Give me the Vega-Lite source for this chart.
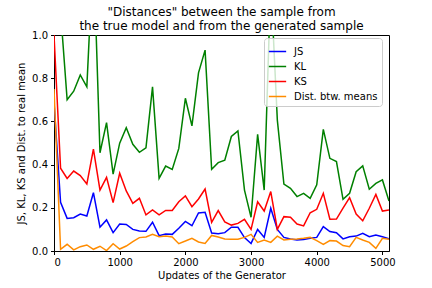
{
  "$schema": "https://vega.github.io/schema/vega-lite/v6.json",
  "width": 335,
  "height": 216,
  "autosize": {"type": "none"},
  "padding": {"left": 54, "top": 35, "right": 43, "bottom": 37},
  "background": "white",
  "title": {
    "text": ["\"Distances\" between the sample from", "the true model and from the generated sample"],
    "fontSize": 12,
    "font": "DejaVu Sans",
    "fontWeight": "normal",
    "color": "black",
    "anchor": "middle",
    "offset": -3,
    "lineHeight": 14.5
  },
  "data": {
    "values": [
      {"u": 0, "JS": 0.69, "KL": 2.0, "KS": 1.0, "M": 0.75},
      {"u": 100, "JS": 0.225, "KL": 1.11, "KS": 0.383, "M": 0.008},
      {"u": 200, "JS": 0.151, "KL": 0.70, "KS": 0.336, "M": 0.031},
      {"u": 300, "JS": 0.154, "KL": 0.74, "KS": 0.370, "M": 0.005},
      {"u": 400, "JS": 0.171, "KL": 0.815, "KS": 0.349, "M": 0.020},
      {"u": 500, "JS": 0.162, "KL": 0.76, "KS": 0.310, "M": 0.028},
      {"u": 600, "JS": 0.270, "KL": 1.4, "KS": 0.472, "M": 0.008},
      {"u": 700, "JS": 0.110, "KL": 0.455, "KS": 0.282, "M": 0.022},
      {"u": 800, "JS": 0.144, "KL": 0.594, "KS": 0.341, "M": 0.002},
      {"u": 900, "JS": 0.085, "KL": 0.356, "KS": 0.224, "M": 0.034},
      {"u": 1000, "JS": 0.125, "KL": 0.499, "KS": 0.360, "M": 0.009},
      {"u": 1100, "JS": 0.123, "KL": 0.571, "KS": 0.278, "M": 0.023},
      {"u": 1200, "JS": 0.100, "KL": 0.494, "KS": 0.221, "M": 0.043},
      {"u": 1300, "JS": 0.093, "KL": 0.457, "KS": 0.244, "M": 0.062},
      {"u": 1400, "JS": 0.091, "KL": 0.478, "KS": 0.167, "M": 0.065},
      {"u": 1500, "JS": 0.133, "KL": 0.76, "KS": 0.190, "M": 0.077},
      {"u": 1600, "JS": 0.071, "KL": 0.336, "KS": 0.167, "M": 0.066},
      {"u": 1700, "JS": 0.079, "KL": 0.393, "KS": 0.188, "M": 0.069},
      {"u": 1800, "JS": 0.077, "KL": 0.378, "KS": 0.188, "M": 0.065},
      {"u": 1900, "JS": 0.105, "KL": 0.475, "KS": 0.228, "M": 0.034},
      {"u": 2000, "JS": 0.137, "KL": 0.707, "KS": 0.255, "M": 0.046},
      {"u": 2100, "JS": 0.117, "KL": 0.579, "KS": 0.205, "M": 0.059},
      {"u": 2200, "JS": 0.176, "KL": 0.825, "KS": 0.241, "M": 0.042},
      {"u": 2300, "JS": 0.179, "KL": 0.93, "KS": 0.287, "M": 0.035},
      {"u": 2400, "JS": 0.083, "KL": 0.378, "KS": 0.133, "M": 0.072},
      {"u": 2500, "JS": 0.080, "KL": 0.409, "KS": 0.187, "M": 0.065},
      {"u": 2600, "JS": 0.085, "KL": 0.42, "KS": 0.135, "M": 0.056},
      {"u": 2700, "JS": 0.110, "KL": 0.53, "KS": 0.120, "M": 0.054},
      {"u": 2800, "JS": 0.110, "KL": 0.556, "KS": 0.128, "M": 0.054},
      {"u": 2900, "JS": 0.062, "KL": 0.282, "KS": 0.147, "M": 0.063},
      {"u": 3000, "JS": 0.035, "KL": 0.156, "KS": 0.100, "M": 0.077},
      {"u": 3100, "JS": 0.100, "KL": 0.540, "KS": 0.228, "M": 0.040},
      {"u": 3200, "JS": 0.063, "KL": 0.282, "KS": 0.185, "M": 0.051},
      {"u": 3300, "JS": 0.198, "KL": 1.25, "KS": 0.275, "M": 0.040},
      {"u": 3400, "JS": 0.100, "KL": 0.606, "KS": 0.100, "M": 0.069},
      {"u": 3500, "JS": 0.063, "KL": 0.310, "KS": 0.159, "M": 0.051},
      {"u": 3600, "JS": 0.056, "KL": 0.290, "KS": 0.156, "M": 0.054},
      {"u": 3700, "JS": 0.051, "KL": 0.252, "KS": 0.125, "M": 0.056},
      {"u": 3800, "JS": 0.053, "KL": 0.267, "KS": 0.116, "M": 0.059},
      {"u": 3900, "JS": 0.059, "KL": 0.244, "KS": 0.177, "M": 0.063},
      {"u": 4000, "JS": 0.063, "KL": 0.306, "KS": 0.193, "M": 0.048},
      {"u": 4100, "JS": 0.113, "KL": 0.563, "KS": 0.267, "M": 0.031},
      {"u": 4200, "JS": 0.090, "KL": 0.429, "KS": 0.147, "M": 0.048},
      {"u": 4300, "JS": 0.085, "KL": 0.414, "KS": 0.148, "M": 0.046},
      {"u": 4400, "JS": 0.056, "KL": 0.239, "KS": 0.198, "M": 0.025},
      {"u": 4500, "JS": 0.066, "KL": 0.267, "KS": 0.247, "M": 0.020},
      {"u": 4600, "JS": 0.069, "KL": 0.367, "KS": 0.171, "M": 0.063},
      {"u": 4700, "JS": 0.082, "KL": 0.394, "KS": 0.140, "M": 0.051},
      {"u": 4800, "JS": 0.066, "KL": 0.286, "KS": 0.198, "M": 0.040},
      {"u": 4900, "JS": 0.074, "KL": 0.313, "KS": 0.262, "M": 0.012},
      {"u": 5000, "JS": 0.066, "KL": 0.329, "KS": 0.185, "M": 0.059},
      {"u": 5100, "JS": 0.056, "KL": 0.231, "KS": 0.190, "M": 0.054}
    ]
  },
  "transform": [{"fold": ["JS", "KL", "KS", "M"], "as": ["metric", "value"]}],
  "mark": {"type": "line", "clip": true, "strokeWidth": 1.5},
  "encoding": {
    "x": {
      "field": "u",
      "type": "quantitative",
      "scale": {"domain": [0, 5100], "nice": false, "zero": false},
      "axis": {"values": [0, 1000, 2000, 3000, 4000, 5000], "title": "Updates of the Generator", "format": "d"}
    },
    "y": {
      "field": "value",
      "type": "quantitative",
      "scale": {"domain": [0, 1], "nice": false},
      "axis": {"values": [0, 0.2, 0.4, 0.6, 0.8, 1.0], "format": ".1f", "title": "JS, KL, KS and Dist. to real mean"}
    },
    "color": {
      "field": "metric",
      "type": "nominal",
      "scale": {"domain": ["JS", "KL", "KS", "M"], "range": ["#0000ff", "#008000", "#ff0000", "#ff8c00"]},
      "legend": {
        "title": null,
        "orient": "none",
        "legendX": 210,
        "legendY": 3,
        "labelExpr": "datum.label == 'M' ? 'Dist. btw. means' : datum.label"
      }
    }
  },
  "config": {
    "font": "DejaVu Sans",
    "view": {"stroke": "black", "strokeWidth": 1},
    "axis": {
      "grid": false,
      "domainColor": "black",
      "domainWidth": 1,
      "tickColor": "black",
      "tickSize": 3.5,
      "tickWidth": 1,
      "labelFont": "DejaVu Sans",
      "labelFontSize": 10,
      "labelColor": "black",
      "labelPadding": 3,
      "titleFont": "DejaVu Sans",
      "titleFontSize": 10,
      "titleFontWeight": "normal",
      "titleColor": "black"
    },
    "axisX": {"titlePadding": 3},
    "axisY": {"titlePadding": 5},
    "legend": {
      "fillColor": "rgba(255,255,255,0.8)",
      "strokeColor": "#cccccc",
      "cornerRadius": 3,
      "padding": 4,
      "symbolType": "stroke",
      "symbolSize": 300,
      "symbolStrokeWidth": 1.5,
      "labelFont": "DejaVu Sans",
      "labelFontSize": 10,
      "labelColor": "black",
      "labelOffset": 7,
      "rowPadding": -3.2
    }
  }
}
